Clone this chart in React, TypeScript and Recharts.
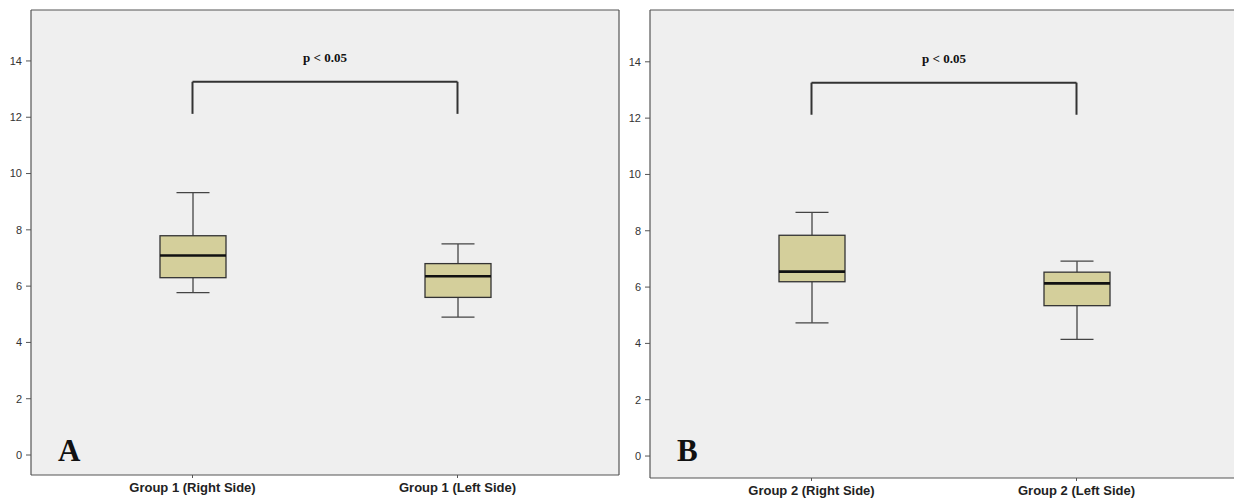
import { Bar, CartesianGrid, ComposedChart, ReferenceLine, XAxis, YAxis } from 'recharts';

const groupsA = ['Group 1 (Right Side)', 'Group 1 (Left Side)'];
const groupsB = ['Group 2 (Right Side)', 'Group 2 (Left Side)'];

// five-number summaries: [min, q1, median, q3, max]
const statsA = [
  [5.77, 6.3, 7.09, 7.79, 9.32],
  [4.9, 5.6, 6.35, 6.8, 7.5]
];
const statsB = [
  [4.73, 6.19, 6.55, 7.84, 8.65],
  [4.14, 5.34, 6.13, 6.53, 6.92]
];

const yTicks = [0, 2, 4, 6, 8, 10, 12, 14];
const bracketTop = 13.26;
const bracketLeg = 12.12;
const pLabel = 'p < 0.05';

const build = (groups: string[], stats: number[][]) =>
  groups.map((name, i) => {
    const [min, q1, median, q3, max] = stats[i];
    return { name, min, q1, median, q3, max, range: [min, max] };
  });

const BoxShape = (props: any) => {
  const { x, y, width, height, payload } = props;
  const { min, q1, median, q3, max } = payload;
  const k = height / (max - min);
  const toY = (v: number) => y + (max - v) * k;
  const cx = x + width / 2;
  const cap = width / 4;
  return (
    <g>
      <line x1={cx} x2={cx} y1={toY(max)} y2={toY(q3)} stroke="#444" strokeWidth={1.3} />
      <line x1={cx} x2={cx} y1={toY(q1)} y2={toY(min)} stroke="#444" strokeWidth={1.3} />
      <line x1={cx - cap} x2={cx + cap} y1={toY(max)} y2={toY(max)} stroke="#444" strokeWidth={1.3} />
      <line x1={cx - cap} x2={cx + cap} y1={toY(min)} y2={toY(min)} stroke="#444" strokeWidth={1.3} />
      <rect x={x} y={toY(q3)} width={width} height={toY(q1) - toY(q3)} fill="#d4cf9b" stroke="#333" strokeWidth={1.3} />
      <line x1={x} x2={x + width} y1={toY(median)} y2={toY(median)} stroke="#111" strokeWidth={2.6} />
    </g>
  );
};

function Panel({ groups, stats, domain, xHeight, letter }: any) {
  const data = build(groups, stats);
  const [g1, g2] = groups;
  const axisLine = { stroke: '#555', strokeWidth: 1.2 };
  return (
    <div style={{ position: 'relative', width: 625, height: 503 }}>
      <ComposedChart width={625} height={503} data={data} margin={{ top: 9, right: 5, bottom: 0, left: 0 }}>
        <CartesianGrid fill="#efefef" horizontal={false} vertical={false} />
        <XAxis
          dataKey="name"
          padding={{ left: 29, right: 29 }}
          height={xHeight}
          axisLine={axisLine}
          tickLine={{ stroke: '#555' }}
          tickSize={3}
          tickMargin={5}
          tick={{ fill: '#222', fontSize: 13, fontWeight: 'bold', fontFamily: 'Liberation Sans, Arial, sans-serif' }}
        />
        <XAxis xAxisId="top" dataKey="name" orientation="top" height={1} tick={false} tickLine={false} axisLine={axisLine} />
        <YAxis
          type="number"
          domain={domain}
          ticks={yTicks}
          allowDataOverflow
          width={31}
          axisLine={axisLine}
          tickLine={{ stroke: '#555' }}
          tickSize={5}
          tickMargin={4}
          tick={{ fill: '#333', fontSize: 11, fontFamily: 'Liberation Sans, Arial, sans-serif' }}
        />
        <YAxis yAxisId="right" orientation="right" domain={domain} width={1} tick={false} tickLine={false} axisLine={axisLine} />
        <Bar dataKey="range" barSize={66} shape={BoxShape} isAnimationActive={false} />
        <ReferenceLine segment={[{ x: g1, y: bracketLeg }, { x: g1, y: bracketTop }]} stroke="#333" strokeWidth={2} ifOverflow="visible" />
        <ReferenceLine segment={[{ x: g2, y: bracketLeg }, { x: g2, y: bracketTop }]} stroke="#333" strokeWidth={2} ifOverflow="visible" />
        <ReferenceLine
          segment={[{ x: g1, y: bracketTop }, { x: g2, y: bracketTop }]}
          stroke="#333"
          strokeWidth={2}
          ifOverflow="visible"
          label={{
            value: pLabel,
            position: 'top',
            offset: 20,
            fill: '#111',
            fontSize: 13,
            fontWeight: 'bold',
            fontFamily: 'Liberation Serif, Times New Roman, serif'
          }}
        />
      </ComposedChart>
      <div
        style={{
          position: 'absolute',
          left: 58,
          top: 433,
          fontFamily: 'Liberation Serif, Times New Roman, serif',
          fontWeight: 'bold',
          fontSize: 31,
          color: '#111'
        }}
      >
        {letter}
      </div>
    </div>
  );
}

export default function App() {
  return (
    <div style={{ position: 'absolute', left: 0, top: 0, width: 1234, height: 503, overflow: 'hidden', background: '#fff' }}>
      <div style={{ position: 'absolute', left: 0, top: 0 }}>
        <Panel groups={groupsA} stats={statsA} domain={[-0.71, 15.81]} xHeight={28} letter="A" />
      </div>
      <div style={{ position: 'absolute', left: 619, top: 0 }}>
        <Panel groups={groupsB} stats={statsB} domain={[-0.78, 15.84]} xHeight={25} letter="B" />
      </div>
    </div>
  );
}
